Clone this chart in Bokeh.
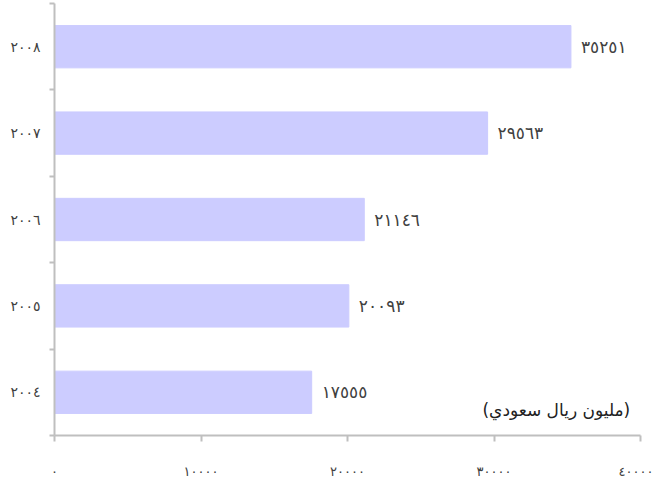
from bokeh.plotting import figure
from bokeh.models import FixedTicker, Label, ColumnDataSource, Range1d
from bokeh.core.properties import value
from bokeh.embed import file_html
from bokeh.resources import INLINE

years = ["2004", "2005", "2006", "2007", "2008"]
values = [17555, 20093, 21146, 29563, 35251]
x_ticks = [0, 10000, 20000, 30000, 40000]
unit_label = "(مليون ريال سعودي)"

AR = str.maketrans("0123456789", "٠١٢٣٤٥٦٧٨٩")


def ar(s):
    return str(s).translate(AR)


pos = [i + 0.5 for i in range(len(years))]
src = ColumnDataSource(dict(y=pos, v=values, lab=[ar(v) for v in values]))

FONT = "DejaVu Sans"
TXT = "#404040"
AX = "#BFBFBF"

p = figure(width=653, height=481, x_range=Range1d(0, 40000), y_range=Range1d(0, 5),
           output_backend="svg", toolbar_location=None,
           min_border_left=54, min_border_right=13, min_border_top=3, min_border_bottom=46)

p.hbar(y="y", right="v", left=0, height=0.49, color="#CCCCFF", source=src)
p.text(x="v", y="y", text="lab", x_offset=10, text_baseline="middle", text_align="left",
       text_font=value(FONT), text_font_size="17px", text_color=TXT, source=src)

p.xaxis.ticker = FixedTicker(ticks=x_ticks)
p.xaxis.major_label_overrides = {t: ar(t) for t in x_ticks}
p.xaxis.major_tick_out = 6
p.xaxis.major_tick_in = 0
p.xaxis.minor_tick_out = 0
p.xaxis.minor_tick_in = 0
p.xaxis.major_label_standoff = 22

p.yaxis.ticker = FixedTicker(ticks=pos, minor_ticks=list(range(len(years) + 1)))
p.yaxis.major_label_overrides = {pp: ar(y) for pp, y in zip(pos, years)}
p.yaxis.major_tick_out = 0
p.yaxis.major_tick_in = 0
p.yaxis.minor_tick_out = 5
p.yaxis.minor_tick_in = 0
p.yaxis.major_label_standoff = 9

for ax in (p.xaxis, p.yaxis):
    ax.axis_line_color = AX
    ax.axis_line_width = 2
    ax.major_tick_line_color = AX
    ax.major_tick_line_width = 2
    ax.minor_tick_line_color = AX
    ax.minor_tick_line_width = 2
    ax.major_label_text_font = FONT
    ax.major_label_text_color = TXT
    ax.major_label_text_font_size = "14px"

p.xaxis.major_label_text_font_size = "13px"

p.add_layout(Label(x=39300, y=0.29, text=unit_label, text_align="right", text_baseline="middle",
                   text_font=FONT, text_font_size="17px", text_color="#222222"))

p.grid.visible = False
p.outline_line_color = None

open("out.html", "w").write(file_html(p, INLINE))
